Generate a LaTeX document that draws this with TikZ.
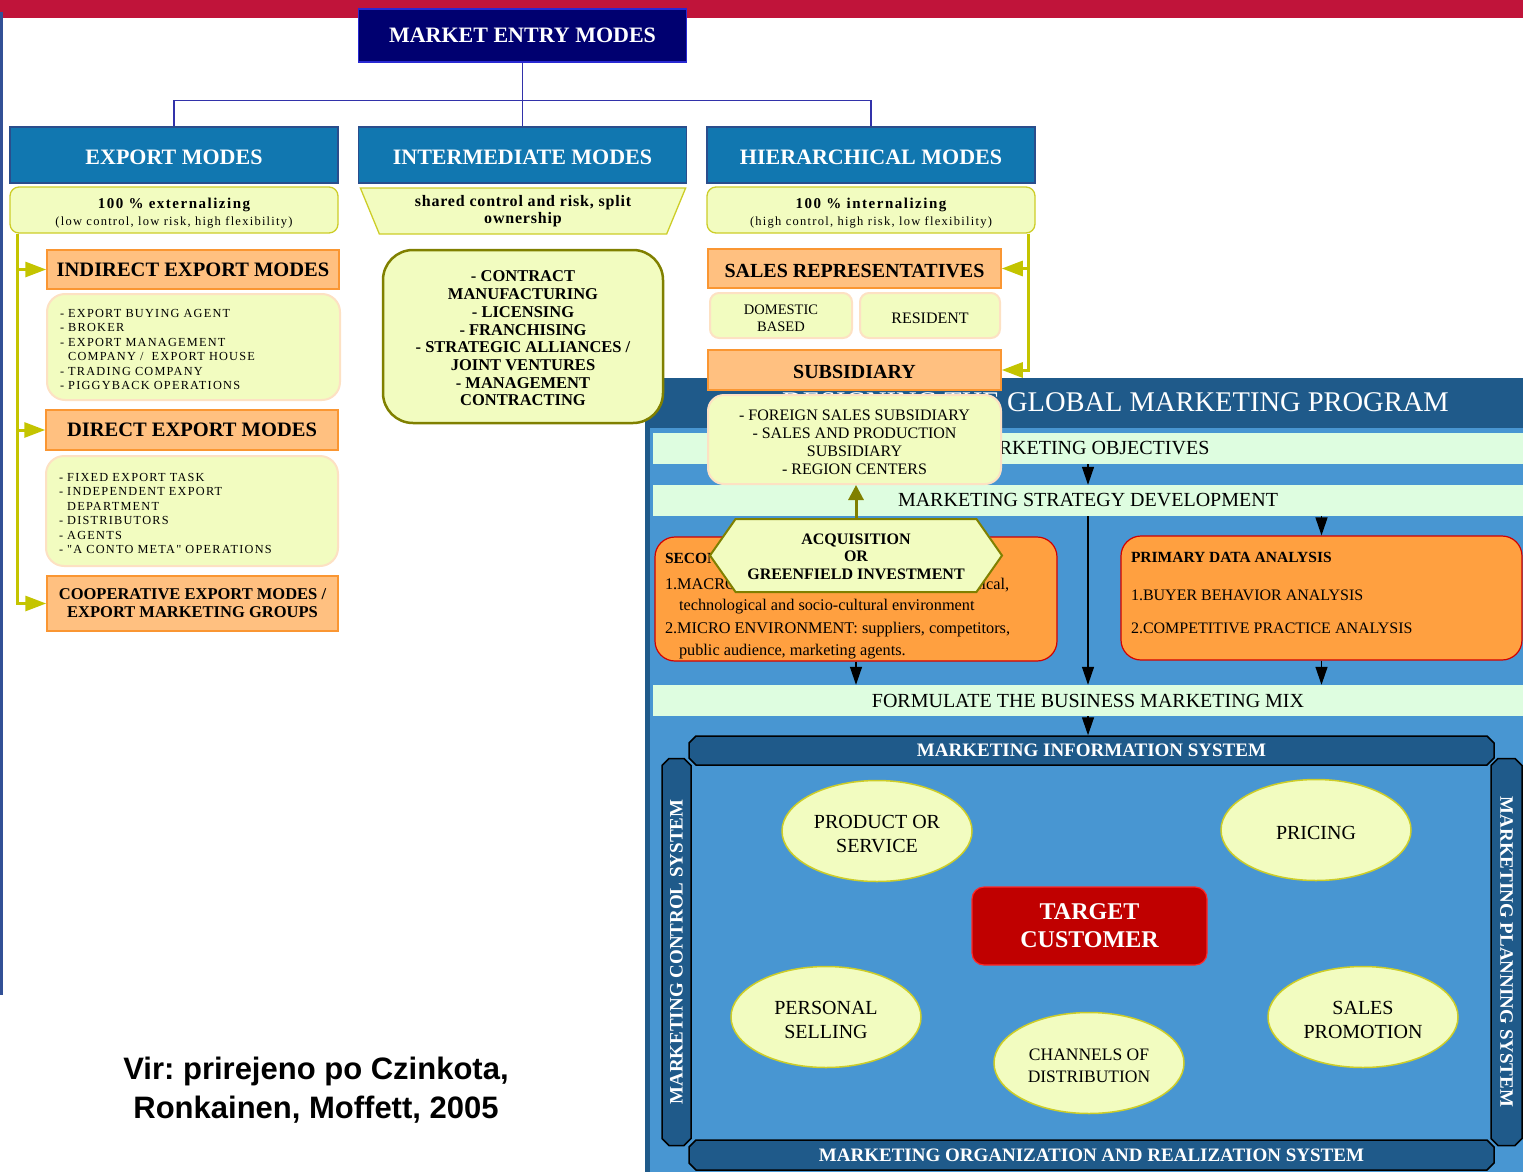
\documentclass[tikz,border=0pt]{standalone}
\usepackage{fontspec}
\setmainfont{Liberation Serif}
\newfontfamily\widefont[LetterSpace=10]{Liberation Serif}
\newfontfamily\midfont[LetterSpace=5]{Liberation Serif}
\newfontfamily\sourcefont{Liberation Sans}
\usepackage{tikz}
\usetikzlibrary{arrows.meta, positioning, shapes.geometric, shapes.misc, shapes.symbols}
\usepackage{xcolor}
\definecolor{barred}{RGB}{192, 20, 58}
\definecolor{stripblue}{RGB}{50, 80, 150}
\definecolor{entrynavy}{RGB}{0, 0, 112}
\definecolor{entryedge}{RGB}{40, 40, 210}
\definecolor{headblue}{RGB}{17, 119, 176}
\definecolor{headedge}{RGB}{42, 77, 140}
\definecolor{treeblue}{RGB}{50, 50, 170}
\definecolor{notefill}{RGB}{242, 252, 192}
\definecolor{noteedge}{RGB}{205, 205, 40}
\definecolor{feedyellow}{RGB}{196, 196, 0}
\definecolor{modefill}{RGB}{255, 192, 128}
\definecolor{modeedge}{RGB}{250, 150, 50}
\definecolor{listedge}{RGB}{253, 225, 195}
\definecolor{olivedge}{RGB}{128, 128, 0}
\definecolor{paneldark}{RGB}{31, 90, 138}
\definecolor{panelblue}{RGB}{72, 150, 210}
\definecolor{stagegreen}{RGB}{222, 253, 224}
\definecolor{dataorange}{RGB}{255, 160, 64}
\definecolor{datared}{RGB}{210, 0, 0}
\definecolor{targetred}{RGB}{192, 0, 0}
\definecolor{targetedge}{RGB}{255, 40, 40}

\newcommand{\fsz}[2]{\fontsize{#1pt}{#2pt}\selectfont}
\newcommand{\lowerby}[1]{\rule{0pt}{#1}}

\tikzset{
    entrybox/.style={draw=entryedge, fill=entrynavy, text=white, line width=1.5pt, minimum width=328pt, minimum height=53pt, inner sep=0pt, font=\fsz{22}{24}\bfseries},
    headbox/.style={draw=headedge, fill=headblue, text=white, line width=1.5pt, minimum width=328pt, minimum height=56pt, inner sep=0pt, font=\fsz{22}{24}\bfseries},
    treeline/.style={draw=treeblue, line width=1.3pt},
    notebox/.style={draw=noteedge, fill=notefill, line width=1.3pt, rounded corners=9pt, minimum width=328pt, minimum height=46pt, inner sep=0pt, align=center, font=\fsz{15}{17}},
    funnel/.style={trapezium, trapezium left angle=66, trapezium right angle=66, shape border rotate=180, trapezium stretches=true, draw=noteedge, fill=notefill, line width=1.3pt, minimum width=326pt, minimum height=46pt, inner sep=0pt, align=center},
    modebox/.style={draw=modeedge, fill=modefill, line width=1.5pt, minimum width=292pt, inner sep=0pt, align=center},
    listbox/.style={draw=listedge, fill=notefill, line width=2pt, rounded corners=18pt, inner xsep=13pt, inner ysep=0pt, align=left, font=\widefont\fsz{12.3}{14.4}},
    repbox/.style={draw=listedge, fill=notefill, line width=2pt, rounded corners=9pt, minimum height=45pt, inner sep=0pt, align=center},
    dealbox/.style={draw=olivedge, fill=notefill, line width=2.5pt, rounded corners=30pt, minimum width=280pt, minimum height=173pt, inner sep=0pt, align=center, font=\fsz{16.5}{17.7}\bfseries},
    feed/.style={draw=feedyellow, line width=3pt, -{Triangle[length=21pt, width=15pt]}},
    flowarrow/.style={draw=black, line width=1.3pt, -{Triangle[length=18pt, width=12pt]}},
    growarrow/.style={draw=olivedge, line width=3pt, -{Triangle[length=15pt, width=15pt]}},
    stagebar/.style={fill=stagegreen, minimum width=870pt, minimum height=31pt, inner sep=0pt, font=\fsz{20}{22}},
    databox/.style={draw=datared, fill=dataorange, line width=1.2pt, rounded corners=20pt, minimum width=402pt, minimum height=124pt, inner xsep=10pt, inner ysep=10pt},
    banner/.style={chamfered rectangle, chamfered rectangle xsep=3.5pt, chamfered rectangle ysep=3.5pt, draw=black, fill=paneldark, line width=1.5pt, text=white, inner sep=0pt, font=\fsz{19}{20}\bfseries},
    mixitem/.style={ellipse, draw=noteedge, fill=notefill, line width=1.5pt, minimum width=190pt, minimum height=101pt, inner sep=0pt, align=center, font=\fsz{20}{24}},
    targetbox/.style={draw=targetedge, fill=targetred, rounded corners=12pt, line width=1.2pt, minimum width=235pt, minimum height=78pt, text=white, align=center, font=\fsz{24}{28}\bfseries},
    hexnode/.style={signal, signal to=east and west, signal pointer angle=110, draw=olivedge, fill=notefill, line width=2pt, minimum width=292pt, minimum height=73pt, inner sep=0pt, align=center, font=\fsz{16}{17.7}\bfseries}
}

\begin{document}
\begin{tikzpicture}[x=1pt, y=-1pt]
    \useasboundingbox (0,0) rectangle (1523,1172);
    \fill[barred] (0,0) rectangle (1523,18);
    \fill[stripblue] (0,12) rectangle (3,995);

    % marketing program panel
    \fill[paneldark] (645,378) rectangle (1523,1172);
    \fill[panelblue] (650,428) rectangle (1523,1172);
    \node[anchor=east, text=white, inner sep=0pt, font=\fsz{28.5}{30}] (progtitle) at (1449,402) {DESIGNING THE GLOBAL MARKETING PROGRAM};

    \node[stagebar] (objectives) at (1088,448.5) {MARKETING OBJECTIVES};
    \node[stagebar] (strategy) at (1088,500.5) {MARKETING STRATEGY DEVELOPMENT};
    \node[databox] (secondary) at (856,599) {\parbox[c][104pt][t]{382pt}{\raggedright\fsz{16.3}{21.5}\vspace*{6pt}%
        {\bfseries\fsz{15.5}{21.5}SECONDARY DATA ANALYSIS}\\[4.5pt]
        1.MACRO ENVIRONMENT: political, economical,\\
        \hspace*{14pt}technological and socio-cultural environment\\[1.5pt]
        2.MICRO ENVIRONMENT: suppliers, competitors,\\
        \hspace*{14pt}public audience, marketing agents.}};
    \node[databox, minimum width=401pt] (primary) at (1321.5,598) {\parbox[c][104pt][t]{381pt}{\raggedright\fsz{16}{21.5}\vspace*{6.5pt}%
        {\bfseries\fsz{15.5}{21.5}PRIMARY DATA ANALYSIS}\\[16.5pt]
        1.BUYER BEHAVIOR ANALYSIS\\[11.5pt]
        2.COMPETITIVE PRACTICE ANALYSIS}};
    \node[stagebar] (formulate) at (1088,700.5) {FORMULATE THE BUSINESS MARKETING MIX};

    \node[banner, minimum width=805pt, minimum height=29pt] (mis) at (1091.5,750.5) {MARKETING INFORMATION SYSTEM};
    \node[banner, minimum width=805pt, minimum height=30pt] (realization) at (1091.5,1155) {MARKETING ORGANIZATION AND REALIZATION SYSTEM};
    \node[banner, rotate=90, minimum width=387pt, minimum height=29pt] (control) at (676.5,952) {MARKETING CONTROL SYSTEM};
    \node[banner, rotate=-90, minimum width=387pt, minimum height=31pt] (planning) at (1506.5,952) {MARKETING PLANNING SYSTEM};

    \draw[flowarrow] (objectives) -- (strategy);
    \draw[flowarrow] (strategy.south -| secondary.north) -- (secondary.north);
    \draw[flowarrow] (strategy.south -| primary.north) -- (primary.north);
    \draw[flowarrow] (strategy) -- (formulate);
    \draw[flowarrow] (secondary.south) -- (secondary.south |- formulate.north);
    \draw[flowarrow] (primary.south) -- (primary.south |- formulate.north);
    \draw[flowarrow] (formulate.south) -- (formulate.south |- mis.north);

    % marketing mix
    \node[mixitem] (product) at (877,831) {\lowerby{20pt}PRODUCT OR\\SERVICE};
    \node[mixitem] (pricing) at (1316,830) {\lowerby{20pt}PRICING};
    \node[mixitem] (personal) at (826,1017) {\lowerby{20pt}PERSONAL\\SELLING};
    \node[mixitem] (promotion) at (1363,1017) {\lowerby{20pt}SALES\\PROMOTION};
    \node[mixitem, font=\fsz{17.5}{22}] (channels) at (1089,1063) {\lowerby{17pt}CHANNELS OF\\DISTRIBUTION};
    \node[targetbox] (customer) at (1089.5,926) {TARGET\\CUSTOMER};

    % entry modes tree
    \node[entrybox] (entry) at (522.5,35.5) {MARKET ENTRY MODES};
    \node[headbox] (export) at (174,155) {\lowerby{19pt}EXPORT MODES};
    \node[headbox] (intermediate) at (522.5,155) {\lowerby{19pt}INTERMEDIATE MODES};
    \node[headbox] (hierarchical) at (871,155) {\lowerby{19pt}HIERARCHICAL MODES};
    \draw[treeline] (entry.south) -- (intermediate.north);
    \draw[treeline] (entry.south) -- ++(0,38) -| (export.north);
    \draw[treeline] (entry.south) -- ++(0,38) -| (hierarchical.north);

    \node[notebox] (exportnote) at (174,210) {\lowerby{17pt}{\widefont\bfseries\fsz{15}{17}100 \% externalizing}\\{\widefont\fsz{12.5}{17}(low control, low risk, high flexibility)}};
    \node[funnel, font=\midfont\bfseries\fsz{16}{17.6}] (internote) at (523,211) {shared control and risk, split\\ownership};
    \node[notebox] (hiernote) at (871,210) {\lowerby{17pt}{\widefont\bfseries\fsz{15}{17}100 \% internalizing}\\{\widefont\fsz{12.5}{17}(high control, high risk, low flexibility)}};

    % export side
    \node[modebox, minimum height=39pt, font=\fsz{20.5}{22}\bfseries] (indirect) at (193,269.5) {INDIRECT EXPORT MODES};
    \node[listbox, text width=267pt, minimum height=106pt] (indirectlist) at (193.5,347) {\lowerby{13pt}- EXPORT BUYING AGENT\\- BROKER\\- EXPORT MANAGEMENT\\\phantom{- }COMPANY /\ \ EXPORT HOUSE\\- TRADING COMPANY\\- PIGGYBACK OPERATIONS};
    \node[modebox, minimum height=40pt, font=\fsz{20.5}{22}\bfseries] (direct) at (192,430) {DIRECT EXPORT MODES};
    \node[listbox, text width=266pt, minimum height=110pt] (directlist) at (192,511) {\lowerby{13pt}- FIXED EXPORT TASK\\- INDEPENDENT EXPORT\\\phantom{- }DEPARTMENT\\- DISTRIBUTORS\\- AGENTS\\- "A CONTO META" OPERATIONS};
    \node[modebox, minimum width=291pt, minimum height=55pt, font=\fsz{16.5}{18}\bfseries] (coop) at (192.5,603.5) {COOPERATIVE EXPORT MODES /\\EXPORT MARKETING GROUPS};
    \coordinate (exfeed) at ([xshift=8pt]exportnote.south west);
    \draw[feed] (exfeed) |- (indirect.west);
    \draw[feed] (exfeed) |- (direct.west);
    \draw[feed] (exfeed) |- (coop.west);

    % intermediate
    \node[dealbox] (deallist) at (523,336.5) {\lowerby{15pt}- CONTRACT\\MANUFACTURING\\- LICENSING\\- FRANCHISING\\- STRATEGIC ALLIANCES /\\JOINT VENTURES\\- MANAGEMENT\\CONTRACTING};

    % hierarchical side
    \node[modebox, minimum width=293pt, minimum height=39pt, font=\fsz{20}{22}\bfseries] (salesrep) at (854.5,268.5) {\lowerby{18pt}SALES REPRESENTATIVES};
    \node[repbox, minimum width=142pt, font=\fsz{14.5}{17}] (domestic) at (781,315.5) {\lowerby{15.5pt}DOMESTIC\\BASED};
    \node[repbox, minimum width=140pt, font=\fsz{16}{18}] (resident) at (930,315.5) {\lowerby{16.5pt}RESIDENT};
    \node[modebox, minimum width=293pt, minimum height=40pt, font=\fsz{20}{22}\bfseries] (subsidiary) at (854.5,370) {\lowerby{17pt}SUBSIDIARY};
    \node[repbox, minimum width=293pt, minimum height=89pt, rounded corners=16pt, font=\fsz{16}{18}] (sublist) at (854.5,439.5) {\lowerby{16.5pt}- FOREIGN SALES SUBSIDIARY\\- SALES AND PRODUCTION\\SUBSIDIARY\\- REGION CENTERS};
    \coordinate (hifeed) at ([xshift=-7pt]hiernote.south east);
    \draw[feed] (hifeed) |- (salesrep.east);
    \draw[feed] (hifeed) |- (subsidiary.east);

    \node[hexnode] (entrychoice) at (856,555.5) {\lowerby{13pt}ACQUISITION\\OR\\GREENFIELD INVESTMENT};
    \draw[growarrow] (entrychoice.north) -- (entrychoice.north |- sublist.south);

    \node[align=center, font=\sourcefont\bfseries\fsz{31}{39}\frenchspacing] (source) at (316,1090) {Vir: prirejeno po Czinkota,\\Ronkainen, Moffett, 2005};
\end{tikzpicture}
\end{document}
